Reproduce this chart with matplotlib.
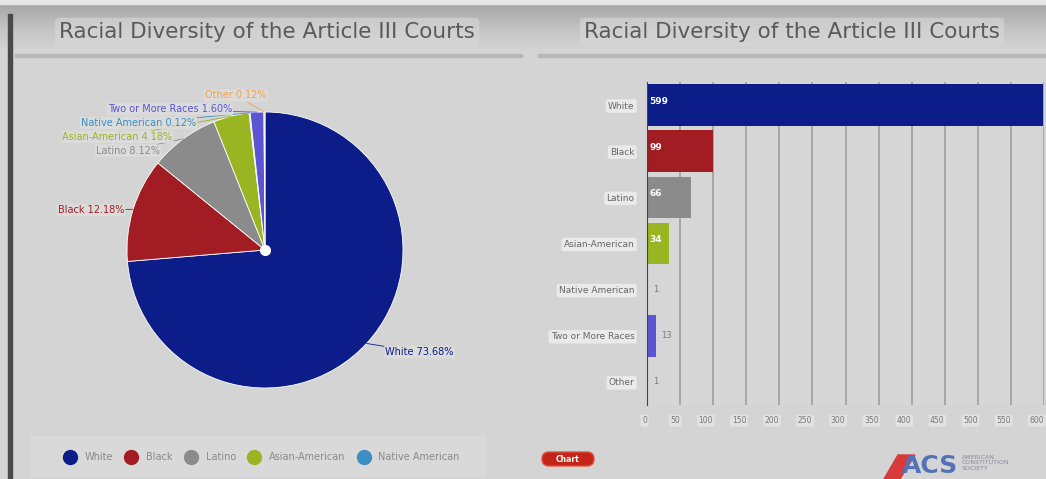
import matplotlib.pyplot as plt
import matplotlib.patches as mpatches
from matplotlib.colors import LinearSegmentedColormap
from matplotlib.lines import Line2D
import numpy as np

W, H = 1046, 479

# data
races = ["White", "Black", "Latino", "Asian-American", "Native American",
         "Two or More Races", "Other"]
judges = [599, 99, 66, 34, 1, 13, 1]
colors = ["#0c1d8a", "#a21c24", "#8b8b8b", "#99b522", "#3c8fc4", "#5b55d4", "#f0a24a"]
xticks = list(range(0, 601, 50))

total = sum(judges)
pcts = [100.0 * v / total for v in judges]


def px(x0, y0, w, h):
    return [x0 / W, 1 - (y0 + h) / H, w / W, h / H]


fig = plt.figure(figsize=(W / 100, H / 100), dpi=100)
fig.patch.set_facecolor("#d4d4d4")

# header band
bg = fig.add_axes([0, 0, 1, 1], zorder=-5)
bg.set_xlim(0, W)
bg.set_ylim(H, 0)
bg.axis("off")
hcmap = LinearSegmentedColormap.from_list("hdr", ["#a6a6a6", "#c4c4c4", "#d6d6d6"])
grad = np.linspace(0, 1, 60).reshape(-1, 1)
bg.imshow(grad, cmap=hcmap, extent=(0, W, 54, 4), aspect="auto")
bg.add_patch(mpatches.Rectangle((0, 0), W, 4, color="#e6e6e6"))
bg.add_patch(mpatches.Rectangle((15, 54), 507, 3, color="#b8b8b8"))
bg.add_patch(mpatches.Rectangle((538, 54), 508, 3, color="#b8b8b8"))
bg.add_patch(mpatches.Rectangle((8, 14), 4, H, color="#4a4a4a"))
bg.add_patch(mpatches.Rectangle((30, 436), 455, 40, color="#d9d9d9"))
for cx in (267, 792):
    bg.text(cx, 32, "Racial Diversity of the Article III Courts", ha="center",
            va="center", fontsize=15.5, color="#5a5a5a",
            bbox=dict(boxstyle="round,pad=0.2", fc="#d8d8d8", ec="none", alpha=0.6))

# red button + logo
bg.add_patch(mpatches.FancyBboxPatch((542, 452), 52, 14,
             boxstyle="round,pad=0,rounding_size=7", fc="#c42418", ec="#e05040"))
bg.text(568, 459, "Chart", ha="center", va="center", fontsize=5.5,
        color="white", fontweight="bold")
bg.add_patch(mpatches.Polygon([(884, 479), (898, 455), (915, 455), (900, 479)],
             color="#d83a3a"))
bg.text(930, 466, "ACS", ha="center", va="center", fontsize=18,
        fontweight="bold", color="#5572b8")
bg.text(962, 463, "AMERICAN\nCONSTITUTION\nSOCIETY", ha="left", va="center",
        fontsize=4.5, color="#8a8aa0", linespacing=1.1)

# pie
ax1 = fig.add_axes(px(127, 112, 276, 276))
wedges, _ = ax1.pie(judges, colors=colors, startangle=90, counterclock=False,
                    radius=1, wedgeprops=dict(edgecolor="white", linewidth=0.6))
ax1.set_xlim(-1, 1)
ax1.set_ylim(-1, 1)
ax1.set_aspect("equal")
ax1.plot(0, 0, "o", color="white", ms=7, zorder=5)

label_xy = [(0.87, -0.74), (-1.02, 0.29), (-0.76, 0.72), (-0.67, 0.82),
            (-0.50, 0.92), (-0.24, 1.02), (0.01, 1.12)]
for i, w in enumerate(wedges):
    ang = np.deg2rad((w.theta1 + w.theta2) / 2)
    ex, ey = np.cos(ang), np.sin(ang)
    tx, ty = label_xy[i]
    ha = "left" if tx > 0.5 else "right"
    ax1.annotate(f"{races[i]} {pcts[i]:.2f}%", xy=(ex, ey), xytext=(tx, ty),
                 ha=ha, va="center", fontsize=7, color=colors[i],
                 annotation_clip=False,
                 bbox=dict(boxstyle="round,pad=0.12", fc="#dedede", ec="none", alpha=0.8),
                 arrowprops=dict(arrowstyle="-", color=colors[i], lw=0.6,
                                 shrinkA=0, shrinkB=0))

handles = [Line2D([], [], marker="o", ls="", ms=10, color=colors[i]) for i in range(5)]
fig.legend(handles, races[:5], ncol=5, loc="center", bbox_to_anchor=(260 / W, 1 - 457 / H),
           frameon=False, fontsize=7, labelcolor="#8a8a8a", handletextpad=0.5,
           columnspacing=0.9)

# bar chart
ax2 = fig.add_axes(px(647, 82, 397, 323))
ax2.set_facecolor("#d6d6d6")
y = np.arange(len(races))
ax2.barh(y, judges, height=0.9, color=colors, zorder=3)
ax2.set_xlim(0, 600)
ax2.set_ylim(len(races) - 0.5, -0.5)
ax2.set_xticks(xticks)
ax2.set_xticklabels([str(t) for t in xticks], fontsize=5.5, color="#777777", ha="right")
for lab in ax2.get_xticklabels():
    lab.set_bbox(dict(boxstyle="round,pad=0.2", fc="#e2e2e2", ec="none"))
ax2.set_yticks(y)
ax2.set_yticklabels(races, fontsize=6.5, color="#666666")
for lab in ax2.get_yticklabels():
    lab.set_bbox(dict(boxstyle="round,pad=0.25", fc="#eaeaea", ec="none"))
ax2.tick_params(axis="y", length=0, pad=9)
ax2.tick_params(axis="x", length=0, pad=8)
ax2.grid(axis="x", color="#a2a2a2", lw=1.3, zorder=0)
for s in ["top", "right", "bottom"]:
    ax2.spines[s].set_visible(False)
ax2.spines["left"].set_color("#444444")
ax2.spines["left"].set_zorder(4)
for i, v in enumerate(judges):
    if v >= 30:
        ax2.text(4, i - 0.08, str(v), va="center", ha="left", fontsize=6.5,
                 color="white", fontweight="bold", zorder=4)
    else:
        ax2.text(v + 8, i, str(v), va="center", ha="left", fontsize=6,
                 color="#777777", zorder=4)

fig.savefig("out.png", dpi=100, facecolor=fig.get_facecolor())
